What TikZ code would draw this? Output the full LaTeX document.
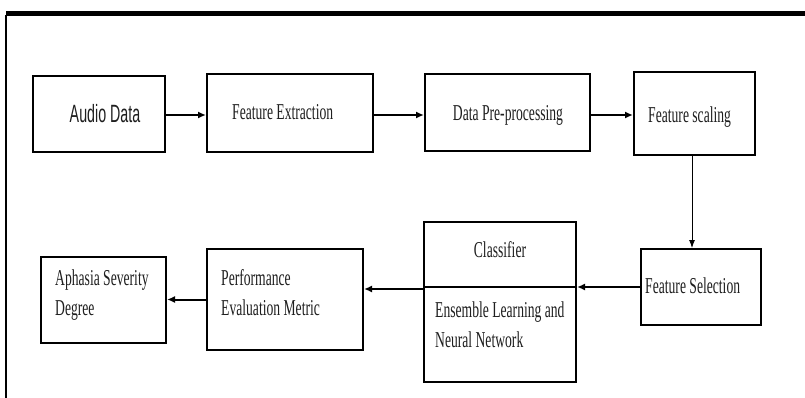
\documentclass[tikz,border=0pt]{standalone}
\usepackage{fontspec}
\usetikzlibrary{arrows.meta}
\newfontfamily\narrowserif[FakeStretch=0.6]{Liberation Serif}
\newfontfamily\narrowsans[FakeStretch=0.57]{Liberation Sans}
\begin{document}
\begin{tikzpicture}[x=1pt,y=-1pt,
  box/.style={draw=black, line width=2pt, fill=white, inner sep=0pt},
  txt/.style={inner sep=0pt, font=\narrowserif\fontsize{22.7}{30}\selectfont, text=black!88},
  stxt/.style={inner sep=0pt, font=\narrowsans\fontsize{25}{30}\selectfont, text=black!88},
  arr/.style={line width=2pt, -{Latex[length=8pt,width=7pt]}},
  thinarr/.style={line width=0.9pt, -{Latex[length=8pt,width=6pt]}}]
\useasboundingbox (0,0) rectangle (805,398);
% frame
\coordinate (ftl) at (6,13.5);
\coordinate (ftr) at (805,13.5);
\coordinate (fbl) at (6,398);
\draw[line width=4.5pt] (ftl) -- (ftr);
\draw[line width=2.5pt] ([yshift=-2pt]ftl) -- (fbl);
% boxes
\node[box, minimum width=132pt, minimum height=76pt] (aud) at (99,114) {};
\node[box, minimum width=166pt, minimum height=78pt] (fext) at (290,113) {};
\node[box, minimum width=165pt, minimum height=77pt] (dpre) at (507.5,112.5) {};
\node[box, minimum width=121pt, minimum height=83pt] (fsc) at (694.5,113.5) {};
\node[box, minimum width=120pt, minimum height=76pt] (fsel) at (701,287) {};
\node[box, minimum width=152pt, minimum height=160pt] (cls) at (500,302) {};
\node[box, minimum width=156pt, minimum height=101pt] (perf) at (285,299.5) {};
\node[box, minimum width=125pt, minimum height=86pt] (aph) at (103.5,300) {};
\draw[line width=2pt] (cls.west |- 0,287) -- (cls.east |- 0,287);
% texts
\node[stxt, anchor=base] (taud) at (105,123) {Audio Data};
\node[txt, anchor=base west] (tfext) at (232,120) {Feature Extraction};
\node[txt, anchor=base] (tdpre) at (508,121) {Data Pre-processing};
\node[txt, anchor=base west] (tfsc) at (648,123) {Feature scaling};
\node[txt, anchor=base west] (tfsel) at (645,293) {Feature Selection};
\node[txt, anchor=base] (tcls) at (500,257) {Classifier};
\node[txt, anchor=base west] (tens1) at (435,317) {Ensemble Learning and};
\node[txt, anchor=base west] (tens2) at (435,347) {Neural Network};
\node[txt, anchor=base west] (tperf1) at (221,285) {Performance};
\node[txt, anchor=base west] (tperf2) at (221,315) {Evaluation Metric};
\node[txt, anchor=base west] (taph1) at (55,285) {Aphasia Severity};
\node[txt, anchor=base west] (taph2) at (55,315) {Degree};
% arrows
\draw[arr] (aud.east |- 0,115) -- (fext.west |- 0,115);
\draw[arr] (fext.east |- 0,115) -- (dpre.west |- 0,115);
\draw[arr] (dpre.east |- 0,115) -- (fsc.west |- 0,115);
\draw[thinarr] (fsc.south -| 692,0) -- (fsel.north -| 692,0);
\draw[arr] (fsel.west) -- (fsel.west -| cls.east);
\draw[arr] (cls.west |- 0,289) -- (perf.east |- 0,289);
\draw[arr] (perf.west) -- (perf.west -| aph.east);
\end{tikzpicture}
\end{document}
